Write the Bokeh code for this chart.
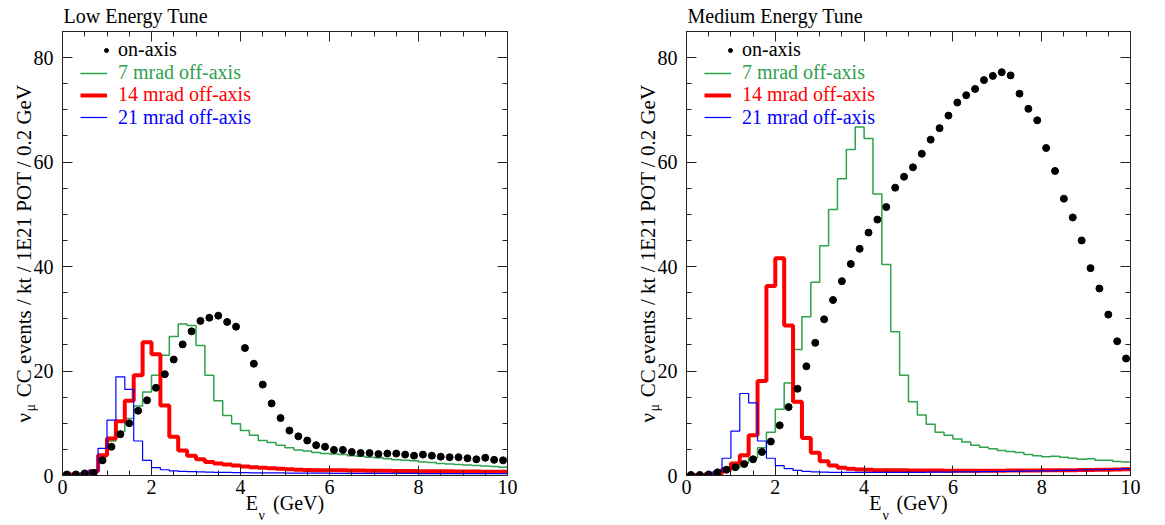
from bokeh.plotting import figure
from bokeh.models import (Range1d, LinearAxis, Legend, LegendItem, SingleIntervalTicker,
                          FixedTicker, Title)
from bokeh.layouts import row
from bokeh.embed import file_html
from bokeh.resources import INLINE

# ---------------- data (events / kt / 1E21 POT / 0.2 GeV) ----------------
bin_edges = [round(0.2 * i, 1) for i in range(51)]
bin_centers = [round(0.2 * i + 0.1, 2) for i in range(50)]

le_on_axis = [0.2, 0.2, 0.4, 0.5, 2.9, 5.5, 7.9, 10.0, 12.4, 14.4,
              16.8, 19.4, 22.2, 25.1, 27.6, 29.6, 30.2, 30.6, 29.4, 28.5,
              24.4, 21.4, 17.4, 13.8, 11.0, 8.6, 7.5, 6.7, 5.8, 5.5,
              4.9, 4.9, 4.5, 4.3, 4.3, 4.1, 4.2, 4.2, 4.0, 3.8,
              4.0, 3.8, 3.6, 3.5, 3.5, 3.3, 3.1, 3.4, 3.0, 2.9]
le_7mrad = [0.1, 0.1, 0.2, 0.8, 3.6, 6.6, 8.4, 10.9, 13.3, 16.0,
            19.2, 23.0, 26.6, 29.0, 28.7, 24.9, 19.2, 14.3, 11.5, 9.9,
            8.6, 7.7, 6.7, 6.3, 5.8, 5.3, 4.9, 4.7, 4.4, 4.2,
            4.1, 4.0, 3.8, 3.7, 3.5, 3.4, 3.2, 3.0, 2.9, 2.8,
            2.6, 2.5, 2.3, 2.2, 2.1, 2.0, 1.9, 1.8, 1.7, 1.6]
le_14mrad = [0.2, 0.2, 0.3, 0.8, 3.9, 7.1, 10.4, 14.3, 19.2, 25.5,
             23.2, 13.4, 7.4, 4.8, 3.8, 3.1, 2.6, 2.3, 2.1, 1.9,
             1.7, 1.6, 1.5, 1.4, 1.3, 1.2, 1.1, 1.05, 1.0, 1.0,
             1.0, 1.0, 0.95, 0.95, 0.9, 0.9, 0.9, 0.85, 0.85, 0.85,
             0.8, 0.8, 0.8, 0.8, 0.75, 0.75, 0.75, 0.7, 0.7, 0.7]
le_21mrad = [0.1, 0.1, 0.3, 1.0, 5.2, 10.6, 18.9, 16.5, 6.6, 2.9,
             1.5, 1.1, 0.9, 0.8, 0.75, 0.7, 0.65, 0.6, 0.6, 0.55,
             0.55, 0.5, 0.5, 0.5, 0.5, 0.45, 0.45, 0.45, 0.45, 0.45,
             0.4, 0.4, 0.4, 0.4, 0.4, 0.4, 0.4, 0.4, 0.4, 0.4,
             0.35, 0.35, 0.35, 0.35, 0.35, 0.35, 0.35, 0.35, 0.35, 0.35]

me_on_axis = [0.1, 0.1, 0.2, 0.6, 1.1, 1.6, 2.2, 3.1, 4.5, 6.5,
              9.6, 13.1, 16.6, 20.9, 25.4, 29.9, 33.6, 37.2, 40.5, 43.4,
              46.5, 49.0, 51.4, 55.1, 57.2, 59.0, 61.6, 64.3, 66.5, 68.9,
              71.4, 72.8, 74.0, 75.7, 76.5, 77.2, 76.6, 73.1, 70.2, 68.0,
              62.7, 58.3, 53.0, 49.4, 45.0, 39.7, 35.8, 30.8, 25.7, 22.4]
me_7mrad = [0.05, 0.1, 0.2, 0.5, 0.8, 1.5, 2.4, 3.4, 5.3, 8.3,
            12.7, 17.7, 24.1, 30.4, 37.0, 44.0, 50.9, 56.8, 62.4, 66.7,
            64.5, 53.9, 40.4, 27.5, 19.2, 14.1, 11.6, 9.8, 8.3, 7.7,
            7.0, 6.4, 5.8, 5.4, 5.1, 4.8, 4.6, 4.4, 4.0, 3.8,
            3.6, 3.7, 3.5, 3.3, 3.1, 3.2, 2.9, 2.9, 2.7, 2.6]
me_14mrad = [0.1, 0.1, 0.2, 0.4, 1.2, 2.3, 3.9, 7.7, 18.1, 36.3,
             41.6, 28.7, 14.1, 7.2, 4.35, 2.75, 1.9, 1.5, 1.3, 1.15,
             1.1, 1.0, 1.0, 1.0, 1.0, 0.95, 0.95, 0.95, 0.95, 0.9,
             0.9, 0.9, 0.9, 0.9, 0.9, 0.9, 0.95, 0.95, 0.95, 0.95,
             1.0, 1.0, 1.0, 1.0, 1.05, 1.05, 1.1, 1.1, 1.15, 1.2]
me_21mrad = [0.05, 0.1, 0.2, 0.8, 3.3, 8.5, 15.7, 13.9, 6.6, 3.3,
             1.9, 1.3, 1.0, 0.8, 0.7, 0.65, 0.6, 0.6, 0.6, 0.6,
             0.6, 0.6, 0.6, 0.6, 0.6, 0.6, 0.6, 0.65, 0.65, 0.65,
             0.7, 0.7, 0.7, 0.75, 0.75, 0.8, 0.8, 0.85, 0.85, 0.9,
             0.9, 0.95, 1.0, 1.0, 1.05, 1.1, 1.1, 1.15, 1.2, 1.3]

panel_titles = ["Low Energy Tune", "Medium Energy Tune"]
legend_labels = ["on-axis", "7 mrad off-axis", "14 mrad off-axis", "21 mrad off-axis"]
x_title = ("E", "ν", "(GeV)")
y_title = ("ν", "μ", "CC events / kt / 1E21 POT / 0.2 GeV")
x_ticks_interval = 2
y_ticks_interval = 20

# ---------------- style ----------------
FONT = "Liberation Serif"
GREEN = "#2ea24c"
RED = "#ff0000"
BLUE = "#0000ff"
AXIS_COLOR = "#222222"
NB = "\u00a0"

FRAME_W = 445
FRAME_H = 444
TOP = 31
BOTTOM = 47


def make_panel(title, on, g7, r14, b21, width, left, right):
    p = figure(width=width, height=TOP + FRAME_H + BOTTOM,
               x_range=Range1d(0, 10), y_range=Range1d(0, 85),
               output_backend="svg", toolbar_location=None,
               min_border_left=left, min_border_right=right,
               min_border_top=TOP, min_border_bottom=BOTTOM)
    p.grid.visible = False
    p.outline_line_color = AXIS_COLOR
    p.background_fill_color = "white"
    p.border_fill_color = "white"

    def style_axis(ax, labels=True):
        ax.major_tick_in = 10
        ax.major_tick_out = 0
        ax.minor_tick_in = 5
        ax.minor_tick_out = 0
        ax.axis_line_color = AXIS_COLOR
        ax.major_tick_line_color = AXIS_COLOR
        ax.minor_tick_line_color = AXIS_COLOR
        ax.major_label_text_font = FONT
        ax.major_label_text_font_size = "20px"
        ax.major_label_text_color = "black" if labels else None
        ax.axis_label_text_font = FONT
        ax.axis_label_text_font_size = "20px"
        ax.axis_label_text_font_style = "normal"
        ax.axis_label_text_color = "black"

    p.xaxis.ticker = SingleIntervalTicker(interval=x_ticks_interval, num_minor_ticks=4)
    p.yaxis.ticker = SingleIntervalTicker(interval=y_ticks_interval, num_minor_ticks=4)
    style_axis(p.xaxis[0])
    style_axis(p.yaxis[0])
    p.xaxis.major_label_standoff = 4
    p.yaxis.major_label_standoff = 9

    # x title: "E  (GeV)" on the axis, subscript nu as a small title just under it
    p.xaxis.axis_label = x_title[0] + NB * 3 + x_title[2]
    p.xaxis.axis_label_standoff = -5
    p.add_layout(Title(text=x_title[1], align="left", offset=196, vertical_align="top",
                       standoff=-17, text_font=FONT, text_font_size="14px",
                       text_font_style="normal", text_color="black"), "below")

    # y title: subscript mu as a small title, main text on an extra bare axis
    p.add_layout(Title(text=y_title[1], align="left", offset=64, vertical_align="bottom",
                       standoff=-14, text_font=FONT, text_font_size="14px",
                       text_font_style="normal", text_color="black"), "left")
    yt = LinearAxis(ticker=FixedTicker(ticks=[]), axis_line_color=None,
                    major_tick_line_color=None, minor_tick_line_color=None,
                    major_label_standoff=0, major_tick_out=0, minor_tick_out=0,
                    major_tick_in=0, minor_tick_in=0,
                    axis_label=y_title[0] + NB * 3 + y_title[2], axis_label_standoff=-8,
                    axis_label_text_font=FONT, axis_label_text_font_size="21px",
                    axis_label_text_font_style="normal", axis_label_text_color="black")
    p.add_layout(yt, "left")

    top_ax = LinearAxis(ticker=SingleIntervalTicker(interval=x_ticks_interval, num_minor_ticks=4))
    right_ax = LinearAxis(ticker=SingleIntervalTicker(interval=y_ticks_interval, num_minor_ticks=4))
    style_axis(top_ax, labels=False)
    style_axis(right_ax, labels=False)
    p.add_layout(top_ax, "above")
    p.add_layout(right_ax, "right")

    # panel title (outermost above)
    p.add_layout(Title(text=title, align="left", offset=1, vertical_align="top", standoff=6,
                       text_font=FONT, text_font_size="20px", text_font_style="normal",
                       text_color="black"), "above")

    r_g = p.step(x=bin_edges, y=g7 + [g7[-1]], mode="after", line_color=GREEN, line_width=1.5)
    r_r = p.step(x=bin_edges, y=r14 + [r14[-1]], mode="after", line_color=RED, line_width=4)
    r_b = p.step(x=bin_edges, y=b21 + [b21[-1]], mode="after", line_color=BLUE, line_width=1.2)
    r_on = p.scatter(x=bin_centers, y=on, size=7, color="black", marker="circle")

    # legend, one entry per Legend so each text has its own colour
    rows_y = [49.5, 72.5, 94.5, 117.0]
    entries = [(r_on, "black", 39, 10, 7), (r_g, GREEN, 18, 27, 11),
               (r_r, RED, 18, 27, 11), (r_b, BLUE, 18, 27, 11)]
    for (rend, col, gx, gw, stand), lab, ry in zip(entries, legend_labels, rows_y):
        fy = (FRAME_H + TOP) - ry
        leg = Legend(items=[LegendItem(label=lab, renderers=[rend])],
                     location=(gx, fy - 12), padding=0, margin=0, spacing=0,
                     border_line_color=None, background_fill_alpha=0,
                     glyph_width=gw, glyph_height=24, label_height=24,
                     label_standoff=stand, label_text_font=FONT,
                     label_text_font_size="20px", label_text_color=col)
        p.add_layout(leg, "center")
    return p


p1 = make_panel(panel_titles[0], le_on_axis, le_7mrad, le_14mrad, le_21mrad, 600, 62, 93)
p2 = make_panel(panel_titles[1], me_on_axis, me_7mrad, me_14mrad, me_21mrad, 542, 86, 12)
p = row(p1, p2)

open("out.html", "w").write(file_html(p, INLINE))
